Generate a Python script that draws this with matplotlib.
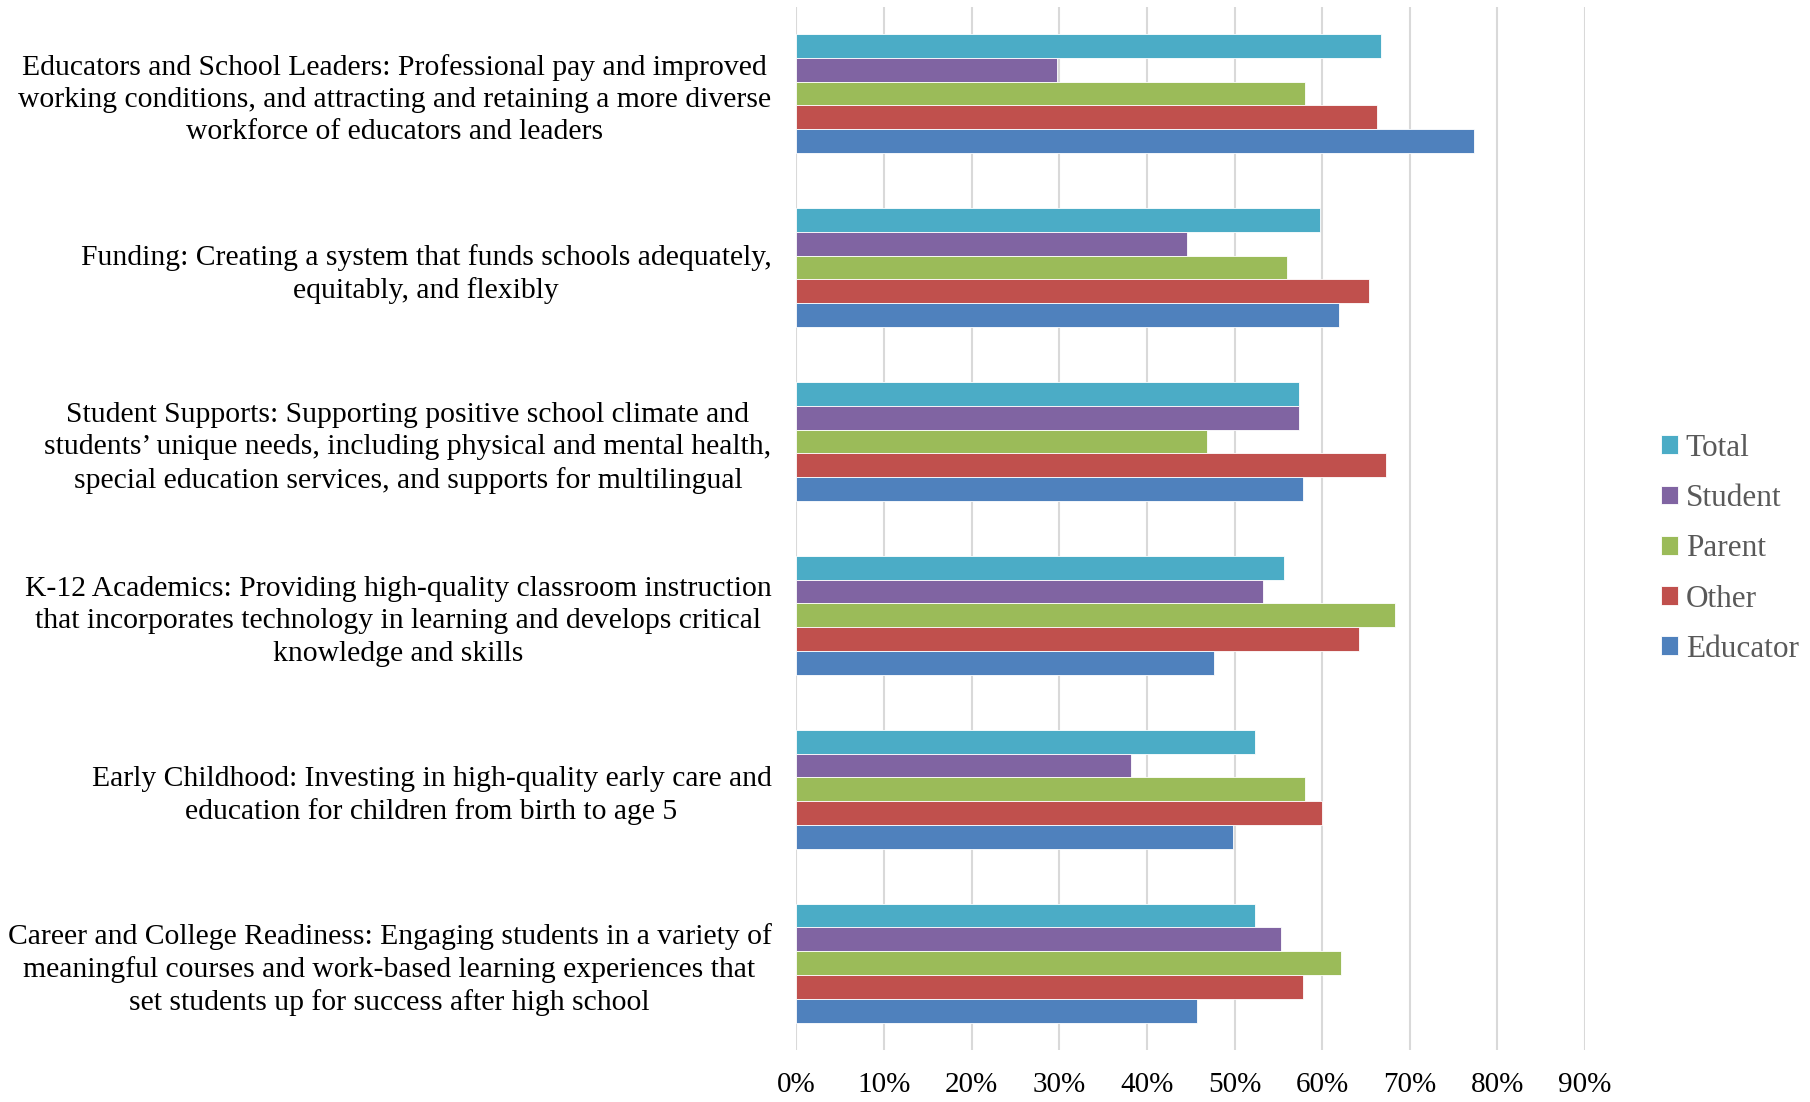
import numpy as np
import matplotlib
matplotlib.use("Agg")
import matplotlib.pyplot as plt

# categories, listed top to bottom as they appear in the chart
categories = [
    "Educators and School Leaders: Professional pay and improved\nworking conditions, and attracting and retaining a more diverse\nworkforce of educators and leaders",
    "Funding: Creating a system that funds schools adequately,\nequitably, and flexibly",
    "Student Supports: Supporting positive school climate and\nstudents\u2019 unique needs, including physical and mental health,\nspecial education services, and supports for multilingual",
    "K-12 Academics: Providing high-quality classroom instruction\nthat incorporates technology in learning and develops critical\nknowledge and skills",
    "Early Childhood: Investing in high-quality early care and\neducation for children from birth to age 5",
    "Career and College Readiness: Engaging students in a variety of\nmeaningful courses and work-based learning experiences that\nset students up for success after high school",
]

# share of respondents (%) per group
total = [66.7, 59.7, 57.4, 55.6, 52.3, 52.3]
student = [29.7, 44.6, 57.4, 53.2, 38.2, 55.3]
parent = [58.1, 56.0, 46.9, 68.3, 58.1, 62.2]
other = [66.3, 65.3, 67.3, 64.2, 60.0, 57.8]
educator = [77.3, 61.9, 57.8, 47.7, 49.8, 45.7]

series_names = ["Total", "Student", "Parent", "Other", "Educator"]
series_vals = [total, student, parent, other, educator]
colors = ["#4bacc6", "#8064a2", "#9bbb59", "#c0504d", "#4f81bd"]

xticks = [0, 10, 20, 30, 40, 50, 60, 70, 80, 90]

plt.rcParams["font.family"] = ["Liberation Serif", "DejaVu Serif"]

fig = plt.figure(figsize=(18.10, 11.02), dpi=100)
ax = fig.add_axes([0.440, 0.047, 0.4357, 0.947])

n = len(categories)
centers = np.arange(n)[::-1]
h = 0.137
for k, (name, vals, c) in enumerate(zip(series_names, series_vals, colors)):
    offset = (2 - k) * h
    ax.barh(centers + offset, np.array(vals) / 100.0, height=h, color=c,
            edgecolor="white", linewidth=0.6, label=name, zorder=3)

ax.set_xlim(0, 0.9)
ax.set_ylim(-0.5, n - 0.5)
ax.set_xticks([t / 100 for t in xticks])
ax.set_xticklabels([f"{t}%" for t in xticks], fontsize=21)
ax.set_yticks(centers)
ax.set_yticklabels(categories, fontsize=21.3)
for lab in ax.get_yticklabels():
    lab.set_multialignment("center")
    lab.set_linespacing(1.31)
ax.tick_params(axis="y", length=0, pad=18)
ax.tick_params(axis="x", length=0, pad=16)
ax.grid(axis="x", color="#d9d9d9", linewidth=1.5, zorder=0)
for s in ax.spines.values():
    s.set_visible(False)

handles, labels = ax.get_legend_handles_labels()
leg = fig.legend(handles, labels, loc="center left", bbox_to_anchor=(0.902, 0.502),
                 frameon=False, fontsize=22.5, handlelength=0.55, handleheight=0.55,
                 handletextpad=0.25, labelspacing=0.68)
for t in leg.get_texts():
    t.set_color("#595959")

fig.savefig("out.png", dpi=100)
